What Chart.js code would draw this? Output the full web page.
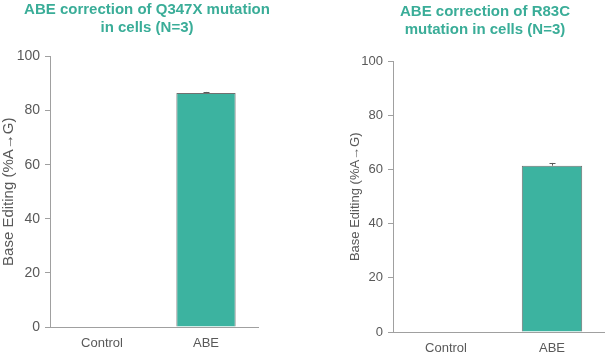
<!DOCTYPE html>
<html>
<head>
<meta charset="utf-8">
<script src="https://cdn.jsdelivr.net/npm/chart.js@4.4.1/dist/chart.umd.min.js"></script>
<style>
  html, body { margin:0; padding:0; background:#fff; width:605px; height:356px; overflow:hidden; position:relative; }
  canvas { position:absolute; top:0; }
</style>
</head>
<body>
<canvas id="c1" width="294" height="356" style="left:0px;width:294px;height:356px"></canvas>
<canvas id="c2" width="300" height="356" style="left:335px;width:300px;height:356px"></canvas>
<script>
// ---- data ----
const categories = ['Control', 'ABE'];
const leftTitle = ['ABE correction of Q347X mutation', 'in cells (N=3)'];
const leftValues = [0, 86.5];
const leftErrors = [0, 0.4];
const rightTitle = ['ABE correction of R83C', 'mutation in cells (N=3)'];
const rightValues = [0, 61.5];
const rightErrors = [0, 1.0];
const yTicks = [0, 20, 40, 60, 80, 100];
const yAxisTitle = 'Base Editing (%A\u2192G)';

const FONT = "'Liberation Sans', Arial, sans-serif";
const TEAL = '#3cb3a0';
const TITLE_TEAL = '#3aad98';
const AXIS = '#a0a0a0';
const TEXT = '#595959';

const errorBarPlugin = {
  id: 'errorBars',
  afterDatasetsDraw(chart, args, opts) {
    const ctx = chart.ctx;
    const meta = chart.getDatasetMeta(0);
    const ys = chart.scales.y;
    ctx.save();
    ctx.strokeStyle = '#5a5a5a';
    ctx.lineWidth = 1;
    meta.data.forEach((bar, i) => {
      const v = chart.data.datasets[0].data[i];
      const e = opts.errors[i];
      if (!e) return;
      const x = Math.round(bar.x) + 0.5;
      const yTop = ys.getPixelForValue(v + e);
      const yBase = ys.getPixelForValue(v);
      ctx.beginPath();
      ctx.moveTo(x, yBase);
      ctx.lineTo(x, yTop);
      ctx.moveTo(x - 3, Math.round(yTop) + 0.5);
      ctx.lineTo(x + 3, Math.round(yTop) + 0.5);
      ctx.stroke();
    });
    ctx.restore();
  }
};

function makeChart(id, title, values, errors, cfg) {
  return new Chart(document.getElementById(id), {
    type: 'bar',
    data: {
      labels: categories,
      datasets: [{
        data: values,
        yAxisID: 'y',
        backgroundColor: TEAL,
        borderColor: '#707070',
        borderWidth: 1,
        borderSkipped: 'bottom',
        categoryPercentage: 1.0,
        barPercentage: 0.57
      }]
    },
    plugins: [errorBarPlugin],
    options: {
      responsive: false,
      animation: false,
      devicePixelRatio: 1,
      layout: { padding: 0 },
      plugins: {
        legend: { display: false },
        tooltip: { enabled: false },
        errorBars: { errors: errors },
        title: {
          display: true,
          text: title,
          color: TITLE_TEAL,
          font: { family: FONT, size: 15, weight: 'bold', lineHeight: 1.25 },
          padding: { top: cfg.titleTop, bottom: cfg.titleBottom }
        }
      },
      scales: {
        x: {
          grid: { display: false, drawTicks: false },
          border: { display: true, color: AXIS, width: 1 },
          ticks: { color: TEXT, font: { family: FONT, size: 13 }, padding: 9 },
          afterFit(s) { s.height = cfg.xHeight; }
        },
        y: {
          position: 'left',
          min: 0, max: 100,
          afterBuildTicks(s) { s.ticks = yTicks.map(v => ({ value: v })); },
          grid: { drawOnChartArea: false, drawTicks: true, tickLength: 5, color: AXIS },
          border: { display: true, color: AXIS, width: 1 },
          ticks: { color: TEXT, font: { family: FONT, size: cfg.yTickSize }, padding: 5 },
          title: {
            display: true, text: yAxisTitle, color: TEXT,
            font: { family: FONT, size: cfg.yTitleSize }, padding: { top: cfg.yTitleTop, bottom: 0 }
          },
          afterFit(s) { s.width = cfg.yWidth; }
        },
        spacer: {
          type: 'linear',
          position: 'right',
          display: true,
          grid: { display: false, drawTicks: false },
          border: { display: false },
          ticks: { display: false },
          afterFit(s) { s.width = cfg.rightGap; }
        }
      }
    }
  });
}

makeChart('c1', leftTitle, leftValues, leftErrors,
  { rightGap: 36, titleTop: 0, titleBottom: 19, xHeight: 29, yWidth: 50, yTitleTop: 0, yTitleSize: 15, yTickSize: 14 });
makeChart('c2', rightTitle, rightValues, rightErrors,
  { rightGap: 30, titleTop: 2, titleBottom: 22, xHeight: 24, yWidth: 58, yTitleTop: 13, yTitleSize: 13, yTickSize: 13 });
</script>
</body>
</html>
